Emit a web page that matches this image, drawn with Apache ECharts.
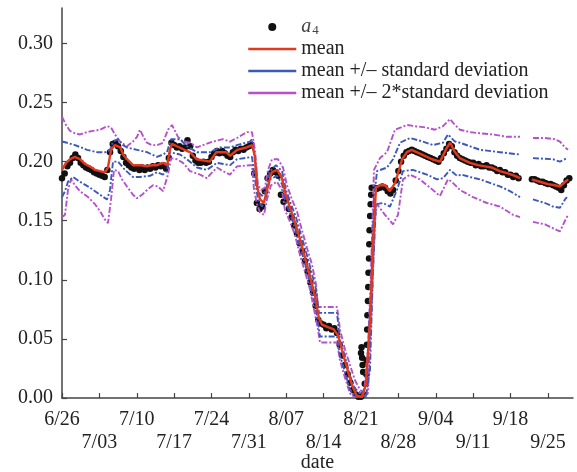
<!DOCTYPE html>
<html>
<head>
<meta charset="utf-8">
<script src="https://cdn.jsdelivr.net/npm/echarts@6/dist/echarts.min.js"></script>
<style>
  html, body { margin: 0; padding: 0; background: #fff; }
  #chart { width: 577px; height: 472px; }
</style>
</head>
<body>
<div id="chart"></div>
<script>
// x values are days counted from 26 June; y values are a4.
const xTickDays = [0, 7, 14, 21, 28, 35, 42, 49, 56, 63, 70, 77, 84, 91];
const xTickLabels = ['6/26', '7/03', '7/10', '7/17', '7/24', '7/31', '8/07',
                     '8/14', '8/21', '8/28', '9/04', '9/11', '9/18', '9/25'];
const yTicks = [0, 0.05, 0.10, 0.15, 0.20, 0.25, 0.30];

// Observations of a4, taken every half day ([first day, values])
const obsRunA = [0, [
  0.186, 0.190, 0.196, 0.199, 0.203, 0.206, 0.203, 0.199, 0.197, 0.195,
  0.194, 0.193, 0.191, 0.190, 0.189, 0.188, 0.187, 0.193, 0.208, 0.215,
  0.216, 0.213, 0.209, 0.204, 0.199, 0.197, 0.195, 0.194, 0.195, 0.193,
  0.195, 0.193, 0.195, 0.194, 0.196, 0.195, 0.197, 0.196, 0.197, 0.194,
  0.203, 0.216, 0.214, 0.212, 0.213, 0.211, 0.212, 0.218, 0.213, 0.205,
  0.201, 0.199, 0.199, 0.200, 0.199, 0.200, 0.204, 0.207, 0.209, 0.207,
  0.209, 0.207, 0.205, 0.204, 0.208, 0.210, 0.209, 0.211, 0.210, 0.212,
  0.213, 0.214, 0.190, 0.165, 0.160, 0.162, 0.175, 0.186, 0.190, 0.193,
  0.191, 0.188, 0.172, 0.166, 0.168, 0.160, 0.153, 0.146, 0.139, 0.131,
  0.124, 0.116, 0.107, 0.098, 0.089, 0.078, 0.066, 0.063, 0.062, 0.059,
  0.061, 0.058, 0.059, 0.055, 0.045, 0.036, 0.028, 0.020, 0.013, 0.007,
  0.003, 0.001, 0.001, 0.003
]];
// Sharp recovery around 21 August ([day, value])
const obsRise = [
  [56.0, 0.038], [56.1, 0.043], [56.2, 0.034], [56.3, 0.028], [56.4, 0.022],
  [56.7, 0.012], [57.0, 0.020], [57.05, 0.032], [57.1, 0.045], [57.15, 0.058],
  [57.2, 0.070], [57.3, 0.082], [57.35, 0.094], [57.4, 0.106], [57.5, 0.118],
  [57.55, 0.130], [57.6, 0.142], [57.7, 0.154], [57.8, 0.164], [57.9, 0.172],
  [58.0, 0.178]
];
const obsRunB = [58.5, [
  0.178, 0.177, 0.178, 0.179, 0.178, 0.175, 0.173, 0.176, 0.184, 0.192,
  0.200, 0.205, 0.208, 0.209, 0.210, 0.209, 0.208, 0.207, 0.206, 0.205,
  0.204, 0.203, 0.202, 0.201, 0.200, 0.203, 0.207, 0.211, 0.215, 0.213,
  0.208, 0.205, 0.203, 0.202, 0.201, 0.200, 0.199, 0.199, 0.197, 0.198,
  0.196, 0.196, 0.197, 0.195, 0.195, 0.194, 0.192, 0.193, 0.191, 0.191,
  0.189, 0.189, 0.187, 0.188, 0.186
]];
const obsRunC = [88.0, [
  0.185, 0.185, 0.184, 0.183, 0.183, 0.182, 0.181, 0.181, 0.180, 0.179,
  0.178, 0.176, 0.180, 0.184, 0.186
]];

// Rolling statistics ([day, value]; null marks the missing stretch)
const meanLine = [
  [0, 0.193], [0.75, 0.199], [1.5, 0.202], [2.4, 0.204], [3.4, 0.202], [4.3, 0.198],
  [5.2, 0.196], [6.2, 0.193], [7.1, 0.192], [8.05, 0.191], [8.6, 0.195], [9.2, 0.210],
  [9.9, 0.214], [10.9, 0.212], [11.6, 0.205], [12.4, 0.201], [13.3, 0.197], [14.6, 0.197],
  [15.9, 0.196], [16.9, 0.197], [17.8, 0.197], [18.9, 0.199], [19.7, 0.197], [20.2, 0.210],
  [20.6, 0.215], [21.5, 0.213], [23.4, 0.209], [24.0, 0.208], [25.2, 0.202], [27.7, 0.200],
  [28.9, 0.208], [30.7, 0.208], [31.5, 0.205], [32.8, 0.210], [34.6, 0.212], [35.6, 0.214],
  [36.1, 0.205], [36.5, 0.180], [37.1, 0.168], [37.8, 0.165], [38.6, 0.180], [39.3, 0.191],
  [40.3, 0.193], [41.2, 0.186], [41.9, 0.172], [42.7, 0.161], [43.6, 0.149], [44.6, 0.134],
  [45.5, 0.119], [46.4, 0.104], [47.4, 0.086], [48.1, 0.068], [48.7, 0.062], [49.8, 0.060],
  [50.9, 0.058], [51.7, 0.053], [52.4, 0.041], [53.4, 0.025], [54.3, 0.011], [55.2, 0.002],
  [56.2, 0.001], [56.9, 0.011], [57.7, 0.066], [58.3, 0.134], [58.8, 0.178], [59.6, 0.180],
  [60.5, 0.180], [61.4, 0.175], [62.4, 0.182], [63.7, 0.202], [64.6, 0.208], [65.5, 0.210],
  [67.4, 0.206], [69.3, 0.202], [70.8, 0.200], [72.1, 0.212], [72.7, 0.216], [73.6, 0.208],
  [74.5, 0.203], [76.4, 0.199], [77.9, 0.197], [79.2, 0.196], [80.5, 0.195], [82.0, 0.192],
  [83.5, 0.190], [84.8, 0.188], [85.8, 0.186], [87, null], [88.0, 0.185], [89.5, 0.183],
  [91.0, 0.181], [92.3, 0.180], [93.3, 0.179], [94.0, 0.182], [94.8, 0.185]
];
const upperSd = [
  [0, 0.217], [0.94, 0.216], [2.43, 0.214], [4.68, 0.210], [6.55, 0.208], [8.43, 0.208],
  [8.99, 0.210], [9.55, 0.217], [10.49, 0.219], [11.42, 0.214], [12.17, 0.212], [14.04, 0.210],
  [15.92, 0.208], [17.79, 0.204], [18.91, 0.206], [19.66, 0.208], [20.41, 0.219], [22.1, 0.219],
  [23.41, 0.213], [25.28, 0.208], [27.72, 0.208], [29.59, 0.212], [31.46, 0.212], [32.77, 0.214],
  [35.2, 0.217], [35.58, 0.219], [36.14, 0.202], [36.7, 0.175], [37.45, 0.171], [38.2, 0.176],
  [38.95, 0.192], [40.07, 0.197], [41.2, 0.192], [41.95, 0.176], [42.88, 0.164], [43.82, 0.153],
  [44.76, 0.138], [45.69, 0.124], [46.63, 0.108], [47.57, 0.092], [48.13, 0.072], [51.5, 0.072],
  [52.06, 0.049], [53.0, 0.035], [53.93, 0.019], [54.87, 0.008], [56.18, 0.003], [57.12, 0.015],
  [57.87, 0.092], [58.43, 0.168], [58.99, 0.192], [60.86, 0.195], [61.99, 0.202], [63.3, 0.216],
  [65.17, 0.220], [67.6, 0.217], [69.48, 0.214], [71.35, 0.216], [72.28, 0.223], [73.6, 0.217],
  [74.53, 0.216], [78.28, 0.210], [82.02, 0.208], [85.77, 0.206], [87, null], [88.2, 0.203],
  [91.95, 0.202], [93.26, 0.200], [94.57, 0.203]
];
const lowerSd = [
  [0, 0.170], [0.56, 0.175], [1.12, 0.183], [2.06, 0.187], [3.37, 0.183], [5.24, 0.178],
  [7.12, 0.172], [8.43, 0.168], [8.99, 0.176], [9.55, 0.200], [10.49, 0.200], [11.8, 0.193],
  [13.3, 0.187], [14.6, 0.187], [16.48, 0.188], [17.79, 0.191], [18.91, 0.189], [19.66, 0.192],
  [20.22, 0.208], [22.1, 0.206], [23.41, 0.202], [25.28, 0.195], [27.15, 0.193], [29.03, 0.199],
  [31.46, 0.197], [32.77, 0.202], [35.58, 0.204], [36.14, 0.185], [36.7, 0.168], [37.45, 0.162],
  [38.2, 0.170], [38.95, 0.185], [40.26, 0.188], [41.2, 0.181], [41.76, 0.168], [42.7, 0.156],
  [43.63, 0.144], [44.57, 0.128], [45.5, 0.114], [46.44, 0.098], [47.38, 0.079], [47.94, 0.064],
  [48.31, 0.052], [51.5, 0.052], [52.06, 0.036], [53.0, 0.022], [53.93, 0.007], [55.06, 0.001],
  [56.93, 0.001], [57.68, 0.024], [58.24, 0.108], [58.8, 0.164], [60.11, 0.165], [61.42, 0.162],
  [62.73, 0.176], [63.86, 0.192], [65.73, 0.193], [68.35, 0.189], [70.22, 0.185], [71.35, 0.186],
  [72.66, 0.193], [73.97, 0.188], [74.9, 0.189], [76.4, 0.187], [78.28, 0.185], [80.15, 0.182],
  [82.02, 0.179], [83.9, 0.175], [85.77, 0.170], [87, null], [88.2, 0.168], [90.45, 0.165],
  [91.95, 0.162], [93.26, 0.161], [94.2, 0.168], [94.57, 0.170]
];
const upper2Sd = [
  [0, 0.238], [0.75, 0.231], [1.5, 0.226], [2.43, 0.224], [3.37, 0.223], [4.68, 0.225],
  [5.8, 0.226], [7.12, 0.227], [8.43, 0.230], [9.18, 0.229], [9.93, 0.223], [10.86, 0.217],
  [12.17, 0.213], [13.3, 0.217], [14.04, 0.221], [14.6, 0.227], [15.36, 0.220], [15.9, 0.216],
  [16.85, 0.214], [17.8, 0.214], [18.9, 0.216], [19.85, 0.227], [20.6, 0.231], [21.72, 0.221],
  [22.66, 0.217], [24.0, 0.216], [25.3, 0.212], [26.4, 0.214], [28.28, 0.217], [30.15, 0.219],
  [31.46, 0.217], [32.77, 0.220], [34.64, 0.225], [35.58, 0.225], [36.14, 0.210], [36.7, 0.180],
  [37.27, 0.176], [38.0, 0.178], [38.58, 0.193], [39.33, 0.202], [40.45, 0.202], [41.39, 0.195],
  [42.13, 0.180], [43.07, 0.168], [44.0, 0.158], [44.94, 0.142], [45.88, 0.127], [46.82, 0.113],
  [47.57, 0.096], [47.94, 0.077], [51.5, 0.077], [52.06, 0.058], [53.0, 0.041], [53.93, 0.028],
  [54.87, 0.015], [55.8, 0.007], [56.55, 0.004], [57.3, 0.041], [57.87, 0.108], [58.43, 0.193],
  [59.55, 0.203], [60.86, 0.208], [62.36, 0.227], [64.6, 0.231], [66.1, 0.230], [68.0, 0.229],
  [69.85, 0.227], [71.35, 0.230], [72.66, 0.236], [73.6, 0.231], [74.53, 0.227], [76.4, 0.225],
  [78.28, 0.224], [80.7, 0.223], [83.33, 0.221], [85.77, 0.221], [87, null], [88.2, 0.220],
  [90.45, 0.220], [92.3, 0.219], [93.26, 0.217], [94.2, 0.212], [94.76, 0.210]
];
const lower2Sd = [
  [0, 0.153], [0.56, 0.155], [1.12, 0.176], [1.69, 0.185], [2.43, 0.180], [3.37, 0.175],
  [4.87, 0.170], [6.18, 0.164], [7.12, 0.158], [8.05, 0.151], [8.61, 0.148], [9.18, 0.168],
  [9.74, 0.193], [10.49, 0.192], [11.24, 0.185], [12.17, 0.179], [13.3, 0.172], [14.04, 0.169],
  [14.98, 0.172], [15.92, 0.176], [17.04, 0.180], [17.98, 0.179], [18.91, 0.175], [19.85, 0.189],
  [20.41, 0.203], [21.54, 0.202], [22.66, 0.199], [23.97, 0.192], [25.84, 0.189], [27.15, 0.186],
  [27.72, 0.189], [29.03, 0.195], [30.15, 0.192], [31.46, 0.189], [32.77, 0.196], [35.2, 0.197],
  [35.58, 0.197], [35.96, 0.176], [36.52, 0.164], [37.08, 0.157], [37.83, 0.155], [38.39, 0.168],
  [39.14, 0.180], [40.26, 0.183], [41.2, 0.176], [41.76, 0.159], [42.7, 0.149], [43.63, 0.138],
  [44.57, 0.121], [45.5, 0.107], [46.44, 0.092], [47.2, 0.075], [47.94, 0.058], [48.31, 0.047],
  [51.5, 0.047], [52.06, 0.032], [53.0, 0.017], [53.93, 0.004], [54.68, 0.001], [56.55, 0.001],
  [57.3, 0.004], [58.05, 0.083], [58.61, 0.151], [58.99, 0.164], [60.49, 0.155], [61.99, 0.147],
  [62.92, 0.155], [63.86, 0.185], [65.17, 0.189], [67.04, 0.185], [68.91, 0.178], [70.79, 0.171],
  [72.28, 0.185], [73.0, 0.183], [74.53, 0.176], [76.97, 0.170], [79.59, 0.165], [82.02, 0.162],
  [84.46, 0.155], [85.77, 0.153], [87, null], [88.2, 0.149], [90.45, 0.147], [92.7, 0.142],
  [93.26, 0.141], [94.2, 0.150], [94.76, 0.155]
];

const NAME_OBS = 'a4';
const NAME_MEAN = 'mean';
const NAME_SD = 'mean +/\u2013 standard deviation';
const NAME_2SD = 'mean +/\u2013 2*standard deviation';

const RED = '#e5391f';
const BLUE = '#3c58b8';
const PURPLE = '#b452cb';
const INK = '#222';
const FONT = 'Liberation Serif';

function expandRun(run) {
  const start = run[0];
  return run[1].map((v, i) => [start + i * 0.5, v]);
}
const obsPoints = [].concat(expandRun(obsRunA), obsRise, expandRun(obsRunB), expandRun(obsRunC));

function bandSeries(name, data, color) {
  return {
    type: 'line', name: name, data: data, z: 3,
    symbol: 'none', showSymbol: false, connectNulls: false,
    lineStyle: { color: color, width: 1.9, type: [6, 2, 2, 2] },
    itemStyle: { color: color }
  };
}

// legend entries for the lines show a plain solid stroke, no marker
const plainLine = { type: 'solid', width: 2.5 };
const hiddenMarker = { opacity: 0 };

const chart = echarts.init(document.getElementById('chart'), null, { renderer: 'canvas' });
chart.setOption({
  animation: false,
  backgroundColor: '#fff',
  grid: { left: 62, right: 4, top: 8, bottom: 74, outerBoundsMode: 'none', containLabel: false },
  legend: {
    orient: 'vertical', left: 247, top: 17, padding: 0, itemGap: 2,
    itemWidth: 48, itemHeight: 8,
    textStyle: {
      fontFamily: FONT, fontSize: 20, color: INK,
      rich: {
        it: { fontFamily: FONT, fontSize: 20, fontStyle: 'italic', color: '#444' },
        sub: { fontFamily: FONT, fontSize: 13, color: '#444', verticalAlign: 'bottom', padding: [6, 0, 0, 1] }
      }
    },
    formatter: function (name) {
      return name === NAME_OBS ? '{it|a}{sub|4}' : name;
    },
    data: [
      { name: NAME_OBS, icon: 'circle' },
      { name: NAME_MEAN, lineStyle: plainLine, itemStyle: hiddenMarker },
      { name: NAME_SD, lineStyle: plainLine, itemStyle: hiddenMarker },
      { name: NAME_2SD, lineStyle: plainLine, itemStyle: hiddenMarker }
    ]
  },
  xAxis: {
    type: 'value', min: 0, max: 95.7,
    name: 'date', nameLocation: 'middle', nameGap: 55, nameMoveOverlap: false,
    nameTextStyle: { fontFamily: FONT, fontSize: 20, color: INK },
    splitLine: { show: false },
    axisLine: { lineStyle: { color: '#444', width: 1.5 } },
    axisTick: { inside: true, length: 5, customValues: xTickDays, lineStyle: { color: '#444', width: 1.2 } },
    axisLabel: {
      customValues: xTickDays, margin: 10,
      fontFamily: FONT, fontSize: 20, color: INK, lineHeight: 23,
      formatter: function (v) {
        const k = Math.round(v / 7);
        const text = xTickLabels[k] || '';
        return k % 2 ? '\n' + text : text;
      }
    }
  },
  yAxis: {
    type: 'value', min: 0, max: 0.33,
    splitLine: { show: false },
    axisLine: { show: true, lineStyle: { color: '#444', width: 1.5 } },
    axisTick: { show: true, inside: true, length: 5, customValues: yTicks, lineStyle: { color: '#444', width: 1.2 } },
    axisLabel: {
      customValues: yTicks, margin: 9,
      fontFamily: FONT, fontSize: 20, color: INK,
      formatter: function (v) { return v.toFixed(2); }
    }
  },
  series: [
    {
      type: 'scatter', name: NAME_OBS, data: obsPoints, z: 2,
      symbol: 'circle', symbolSize: 6.5,
      itemStyle: { color: '#111', opacity: 1 }
    },
    bandSeries(NAME_2SD, upper2Sd, PURPLE),
    bandSeries(NAME_2SD, lower2Sd, PURPLE),
    bandSeries(NAME_SD, upperSd, BLUE),
    bandSeries(NAME_SD, lowerSd, BLUE),
    {
      type: 'line', name: NAME_MEAN, data: meanLine, z: 4,
      symbol: 'none', showSymbol: false, connectNulls: false,
      lineStyle: { color: RED, width: 2.4 },
      itemStyle: { color: RED }
    }
  ]
});
</script>
</body>
</html>
